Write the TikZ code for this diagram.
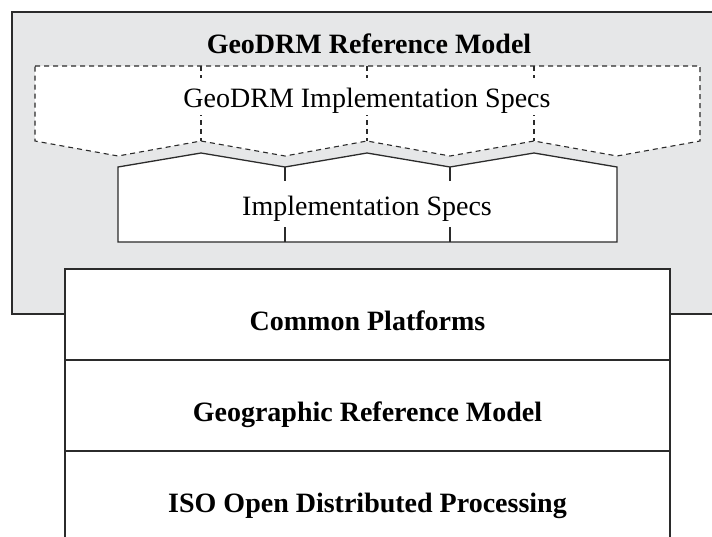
\documentclass[tikz,border=0pt]{standalone}
\usepackage{fontspec}
\setmainfont{Liberation Serif}
\definecolor{greyfill}{HTML}{E6E7E8}
\definecolor{lineclr}{HTML}{2B2B2B}
\begin{document}
\begin{tikzpicture}[x=1pt,y=-1pt,
  outline/.style={draw=lineclr,line width=1.3pt},
  dashline/.style={draw=lineclr,line width=1.1pt,dash pattern=on 5pt off 4pt},
  lbl/.style={font=\fontsize{28}{32}\selectfont,inner sep=0pt,anchor=base},
  blbl/.style={font=\fontsize{28}{32}\selectfont\bfseries,inner sep=0pt,anchor=base},
  txtmask/.style={fill=white,minimum height=37pt,minimum width=363pt,inner sep=0pt},
  stackbox/.style={outline,fill=white,minimum width=605pt,minimum height=91pt,inner sep=0pt}]
\useasboundingbox (0,0) rectangle (712,536);
% grey container
\path[fill=greyfill,outline] (12,314) -- (12,12) -- (730,12) -- (730,314) -- cycle;
\node[blbl] (title) at (369,53) {GeoDRM Reference Model};
% dashed GeoDRM implementation specs
\path[fill=white] (35,66) -- (700,66) -- (700,141) -- (617,156) -- (534,141) -- (450,156) -- (367,141) -- (285,156) -- (201,141) -- (118,156) -- (35,141) -- cycle;
\draw[dashline] (35,66) -- (700,66) -- (700,141) -- (617,156) -- (534,141) -- (450,156) -- (367,141) -- (285,156) -- (201,141) -- (118,156) -- (35,141) -- cycle;
\coordinate (d1t) at (201,66); \coordinate (d1b) at (201,141);
\coordinate (d2t) at (367,66); \coordinate (d2b) at (367,141);
\coordinate (d3t) at (534,66); \coordinate (d3b) at (534,141);
\draw[dashline] (d1t) -- (d1b);
\draw[dashline] (d2t) -- (d2b);
\draw[dashline] (d3t) -- (d3b);
\node[txtmask] (geomask) at (367,96.5) {};
\node[lbl] (geoimpl) at (367,107) {GeoDRM Implementation Specs};
% solid implementation specs
\path[fill=white,outline] (118,242) -- (118,167) -- (201,153) -- (285,167) -- (367,153) -- (450,167) -- (534,153) -- (617,167) -- (617,242) -- cycle;
\coordinate (s1t) at (285,167); \coordinate (s1b) at (285,242);
\coordinate (s2t) at (450,167); \coordinate (s2b) at (450,242);
\draw[outline] (s1t) -- (s1b);
\draw[outline] (s2t) -- (s2b);
\node[txtmask,minimum width=260pt,minimum height=46pt] (implmask) at (367,204) {};
\node[lbl] (impl) at (367,215) {Implementation Specs};
% stack
\node[stackbox] (cp) at (367.5,314.5) {};
\node[stackbox] (grm) at (367.5,405.5) {};
\node[stackbox] (iso) at (367.5,496.5) {};
\node[blbl] (cptxt) at (367.5,330) {Common Platforms};
\node[blbl] (grmtxt) at (367.5,421) {Geographic Reference Model};
\node[blbl] (isotxt) at (367.5,512) {ISO Open Distributed Processing};
\end{tikzpicture}
\end{document}
